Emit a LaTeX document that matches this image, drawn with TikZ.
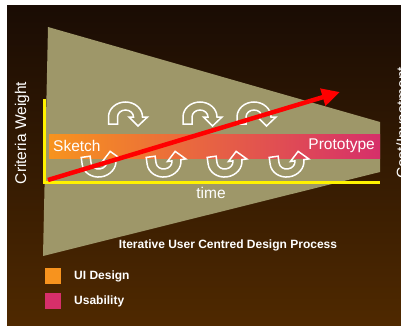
\documentclass[tikz,border=0pt]{standalone}
\usepackage{fontspec}
\setmainfont{Liberation Sans}
\usepackage{tikz}
\usetikzlibrary{arrows.meta}
\usepackage{xcolor}
\definecolor{bgtop}{HTML}{1A0C04}
\definecolor{bgbottom}{HTML}{4F2900}
\definecolor{funnel}{HTML}{9E9769}
\definecolor{uiorange}{HTML}{F7931E}
\definecolor{usepink}{HTML}{D62F6A}
\definecolor{bandmid}{HTML}{EA6A50}
\definecolor{axisyellow}{HTML}{FFF200}

\tikzset{
  loopline/.style={draw=white,line width=1.5pt},
  loop arrow/.pic={
    \draw[loopline] (-17,-7) -- (-17,0) arc[start angle=180,end angle=0,x radius=17,y radius=15]
      -- (22,0) -- (12.5,-9) -- (3.5,0) -- (8,0)
      arc[start angle=0,end angle=180,x radius=8,y radius=7] -- (-8,-7) -- cycle;
  }
}

\begin{document}
\begin{tikzpicture}[x=1pt,y=1pt,font=\fontsize{15.5}{18}\selectfont,
  lbl/.style={text=white,inner sep=0pt},
  keylbl/.style={text=white,inner sep=0pt,font=\fontsize{12}{14}\selectfont\bfseries},
  keybox/.style={minimum size=16pt,inner sep=0pt}]
\useasboundingbox (0,0) rectangle (401,-326);
\shade[top color=bgtop,bottom color=bgbottom] (7,-6) rectangle (401,-326);
\begin{scope}
\clip (7,-6) rectangle (401,-326);
\node[lbl,rotate=90] (cost) at (402,-123) {Cost/Investment};
\end{scope}
% funnel and the sketch-to-prototype band
\fill[funnel] (48,-27) -- (380,-122) -- (380,-172) -- (43,-256) -- cycle;
\shade[left color=uiorange,middle color=bandmid,right color=usepink] (49,-134) rectangle (380,-158);
% iteration loops
\foreach \cx in {125.5,200,254}
  \pic at (\cx,-117) {loop arrow};
\foreach \cx in {99,164,225,287}
  \pic[yscale=-1,rotate=-8] at (\cx,-162) {loop arrow};
\node[lbl,anchor=west] (sketch) at (53,-146) {Sketch};
\node[lbl,anchor=east] (proto) at (375,-146) {Prototype};
% axes
\coordinate (ytop) at (44,-99);
\coordinate (origin) at (44,-182);
\coordinate (xend) at (380,-182);
\draw[axisyellow,line width=3pt] (ytop) -- (origin) -- (xend);
\node[lbl] (time) at (211,-193) {time};
\node[lbl,rotate=90] (crit) at (22,-133) {Criteria Weight};
% rising effort
\coordinate (rstart) at (48,-180);
\coordinate (rend) at (340,-92);
\draw[red,line width=4.5pt,-{Triangle[length=18pt,width=17pt]}] (rstart) -- (rend);
\node[keylbl] (title) at (228,-245) {Iterative User Centred Design Process};
% legend
\node[keybox,fill=uiorange] (kui) at (53,-276) {};
\node[keybox,fill=usepink] (kuse) at (53,-300.5) {};
\node[keylbl,anchor=west] (kuilbl) at (74,-276) {UI Design};
\node[keylbl,anchor=west] (kuselbl) at (74,-301) {Usability};
\end{tikzpicture}
\end{document}
